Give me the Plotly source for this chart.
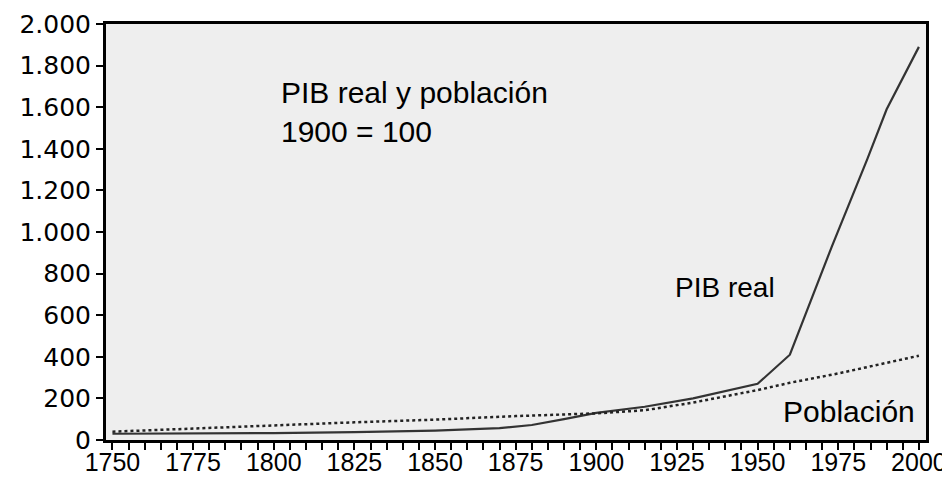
import plotly.graph_objects as go

# PIB real (1900 = 100)
pib_years = [1750, 1775, 1800, 1825, 1850, 1870, 1880, 1890, 1900, 1915, 1930, 1950, 1960, 1973, 1984, 1990, 2000]
pib_values = [30, 31, 33, 38, 45, 57, 72, 100, 130, 160, 200, 270, 410, 930, 1350, 1590, 1890]

# Población (1900 = 100)
pob_years = [1750, 1775, 1800, 1825, 1850, 1875, 1900, 1915, 1930, 1950, 1960, 1975, 2000]
pob_values = [40, 55, 72, 85, 98, 115, 128, 143, 180, 240, 275, 320, 405]

y_ticks = [0, 200, 400, 600, 800, 1000, 1200, 1400, 1600, 1800, 2000]
x_ticks = [1750, 1775, 1800, 1825, 1850, 1875, 1900, 1925, 1950, 1975, 2000]

fig = go.Figure()
fig.add_trace(go.Scatter(x=pib_years, y=pib_values, mode="lines", name="PIB real",
                         line=dict(color="#333333", width=2.2)))
fig.add_trace(go.Scatter(x=pob_years, y=pob_values, mode="lines", name="Población",
                         line=dict(color="#222222", width=2.5, dash="dot")))

fam = "Liberation Sans, Arial, sans-serif"

fig.add_annotation(x=1801.5, y=1578, xref="x", yref="y", text="PIB real y población<br>1900 = 100",
                   showarrow=False, xanchor="left", yanchor="middle", align="left",
                   font=dict(family=fam, size=30, color="#000000"))
fig.add_annotation(x=1940, y=731, xref="x", yref="y", text="PIB real",
                   showarrow=False, xanchor="center", yanchor="middle",
                   font=dict(family=fam, size=28, color="#000000"))
fig.add_annotation(x=1999.5, y=139, xref="x", yref="y", text="Población",
                   showarrow=False, xanchor="right", yanchor="middle",
                   font=dict(family=fam, size=30, color="#000000"))

# the page body adds an 8px offset, so the figure is 8px smaller than the window
fig.update_layout(
    width=942, height=471,
    margin=dict(l=98, r=24, t=16, b=39),
    paper_bgcolor="#ffffff",
    plot_bgcolor="#eeeeee",
    showlegend=False,
    separators=",.",
    xaxis=dict(
        range=[1748, 2002.2],
        automargin=False,
        tickmode="array", tickvals=x_ticks, ticktext=[str(v) for v in x_ticks],
        showgrid=False, zeroline=False,
        showline=True, linecolor="#000000", linewidth=3, mirror=True,
        ticks="outside", ticklen=7, tickwidth=2, tickcolor="#000000",
        ticklabelstandoff=-9,
        minor=dict(dtick=5, tick0=1750, ticks="outside", ticklen=7, tickwidth=2, tickcolor="#000000", showgrid=False),
        tickfont=dict(family=fam, size=25, color="#000000"),
    ),
    yaxis=dict(
        range=[0, 2000],
        automargin=False,
        tickmode="array", tickvals=y_ticks,
        tickformat=",d",
        showgrid=False, zeroline=False,
        showline=True, linecolor="#000000", linewidth=3, mirror=True,
        ticks="outside", ticklen=7, tickwidth=2, tickcolor="#000000",
        tickfont=dict(family="DejaVu Sans, sans-serif", size=25, color="#000000"),
    ),
)

fig.write_html("out.html")
